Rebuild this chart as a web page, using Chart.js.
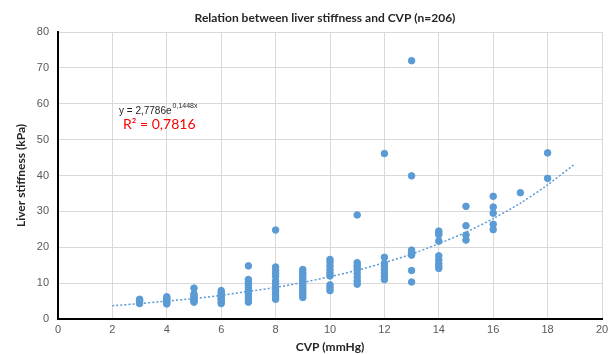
<!DOCTYPE html>
<html>
<head>
<meta charset="utf-8">
<title>Liver stiffness vs CVP</title>
<script src="https://cdn.jsdelivr.net/npm/chart.js@4.4.1/dist/chart.umd.min.js"></script>
<style>
  html, body { margin: 0; padding: 0; background: #fff; }
</style>
</head>
<body>
<canvas id="chart" width="614" height="354"></canvas>
<script>
// patients: CVP (mmHg) and liver stiffness (kPa)
var cvp = [
  3, 3, 3, 3,
  4, 4, 4, 4, 4, 4,
  5, 5, 5, 5, 5, 5, 5,
  6, 6, 6, 6, 6, 6, 6, 6,
  7, 7, 7, 7, 7, 7, 7, 7, 7, 7, 7,
  8, 8, 8, 8, 8, 8, 8, 8, 8, 8, 8, 8, 8,
  9, 9, 9, 9, 9, 9, 9, 9, 9, 9, 9, 9,
  10, 10, 10, 10, 10, 10, 10, 10, 10,
  11, 11, 11, 11, 11, 11, 11, 11, 11,
  12, 12, 12, 12, 12, 12, 12, 12,
  13, 13, 13, 13, 13, 13, 13, 13,
  14, 14, 14, 14, 14, 14, 14, 14, 14,
  15, 15, 15, 15,
  16, 16, 16, 16, 16,
  17,
  18, 18
];
var stiffness = [
  4.3, 4.8, 5.2, 5.5,
  4.2, 4.6, 5.0, 5.4, 5.8, 6.2,
  4.7, 5.0, 5.5, 6.0, 6.5, 7.0, 8.6,
  4.3, 4.8, 5.3, 5.8, 6.3, 6.8, 7.3, 7.9,
  4.7, 5.4, 6.1, 6.8, 7.5, 8.2, 8.9, 9.6, 10.3, 11.0, 14.8,
  5.5, 6.1, 6.8, 7.6, 8.2, 9.0, 9.8, 10.6, 11.9, 12.7, 13.5, 14.5, 24.8,
  6.0, 6.7, 7.4, 8.1, 8.8, 9.5, 10.2, 10.9, 11.6, 12.3, 13.0, 13.8,
  7.9, 8.7, 9.5, 12.0, 12.8, 13.8, 14.8, 15.8, 16.6,
  9.7, 10.6, 11.6, 12.7, 13.7, 14.4, 15.0, 15.7, 29.0,
  11.0, 11.9, 12.8, 13.7, 14.6, 15.5, 17.2, 46.1,
  10.3, 13.5, 17.8, 18.2, 18.7, 19.2, 39.9, 72.0,
  14.1, 14.7, 15.5, 16.5, 17.6, 21.7, 23.5, 24.0, 24.5,
  22.0, 23.4, 26.0, 31.4,
  24.9, 26.4, 29.5, 31.2, 34.2,
  35.2,
  39.2, 46.3
];

// dotted exponential trend line
var trendX = [2, 3, 4, 5, 6, 7, 8, 9, 10, 11, 12, 13, 14, 15, 16, 17, 18, 19];
var trendY = [3.7, 4.3, 5.0, 5.7, 6.6, 7.7, 8.8, 10.2, 11.8, 13.6, 15.7, 18.1, 21.0, 24.2, 28.0, 32.3, 37.4, 43.2];

var chartTitle = 'Relation between liver stiffness and CVP (n=206)';
var xTitle = 'CVP (mmHg)';
var yTitle = 'Liver stiffness (kPa)';
var eqMain = 'y = 2,7786e';
var eqExp = '0,1448x';
var eqR2 = 'R\u00B2 = 0,7816';

var puntos = cvp.map(function(x, i) { return { x: x, y: stiffness[i] }; });
var tendencia = trendX.map(function(x, i) { return { x: x, y: trendY[i] }; });

// titulo y ecuacion
var textos = {
  id: 'textos',
  afterDraw: function(chart) {
    var c = chart.ctx;
    c.save();
    c.textBaseline = 'middle';
    c.textAlign = 'center';
    c.fillStyle = '#262626';
    c.font = 'bold 12px Lato';
    c.fillText(chartTitle, 325, 18);

    c.textAlign = 'left';
    c.fillStyle = '#262626';
    c.font = '10px "Liberation Sans"';
    c.fillText(eqMain, 119, 111);
    var w = c.measureText(eqMain).width;
    c.font = '7px "Liberation Sans"';
    c.fillText(eqExp, 119 + w + 1, 106);

    c.fillStyle = '#ff0000';
    c.font = '14px Lato';
    c.fillText(eqR2, 123, 124);
    c.restore();
  }
};

var ctx = document.getElementById('chart').getContext('2d');
new Chart(ctx, {
  type: 'scatter',
  data: {
    datasets: [{
      label: 'Liver stiffness',
      data: puntos,
      backgroundColor: '#5b9bd5',
      borderColor: '#5b9bd5',
      pointRadius: 3.3,
      pointHoverRadius: 3.3,
      order: 1
    }, {
      type: 'line',
      label: 'Expon.',
      data: tendencia,
      borderColor: '#5b9bd5',
      borderWidth: 1.5,
      borderDash: [2, 2],
      pointRadius: 0,
      fill: false,
      tension: 0.3,
      order: 2
    }]
  },
  options: {
    responsive: false,
    animation: false,
    layout: { padding: { top: 32, right: 12, left: 0, bottom: 0 } },
    plugins: {
      legend: { display: false },
      tooltip: { enabled: false }
    },
    scales: {
      x: {
        type: 'linear',
        min: 0,
        max: 20,
        ticks: { stepSize: 2, color: '#595959', font: { family: 'Liberation Sans', size: 11 }, padding: 4 },
        grid: { color: '#d9d9d9', drawTicks: false },
        border: { color: '#000', width: 2 },
        title: { display: true, text: xTitle, color: '#262626', font: { family: 'Lato', size: 12, weight: 'bold' }, padding: { top: 4, bottom: 0 } },
        afterFit: function(s) { s.height = 35; }
      },
      y: {
        min: 0,
        max: 80,
        ticks: { stepSize: 10, color: '#595959', font: { family: 'Liberation Sans', size: 11 }, padding: 9 },
        grid: { color: '#d9d9d9', drawTicks: false },
        border: { color: '#000', width: 2 },
        title: { display: true, text: yTitle, color: '#262626', font: { family: 'Lato', size: 12, weight: 'bold' }, padding: { top: 14, bottom: 0 } },
        afterFit: function(s) { s.width = 58; }
      }
    }
  },
  plugins: [textos]
});
</script>
</body>
</html>
